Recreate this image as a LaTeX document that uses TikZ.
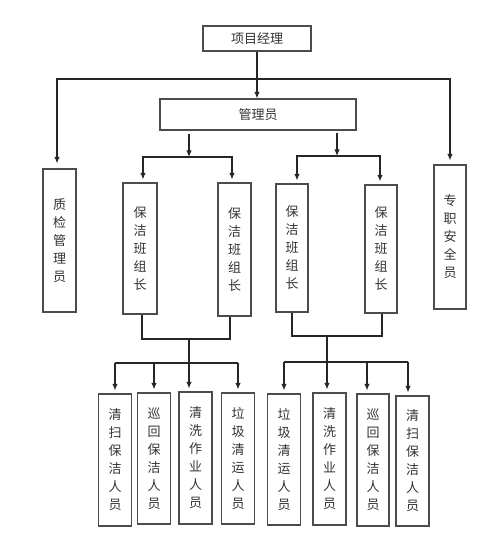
\documentclass[tikz,border=0pt]{standalone}
\usepackage{fontspec}
\newfontfamily\cjk{Noto Sans CJK SC}
\usetikzlibrary{positioning,arrows.meta}

\begin{document}
\begin{tikzpicture}[x=1pt,y=-1pt,>={Latex[length=6.5pt,width=5.5pt]},line width=1.1pt,draw=black!85,
  arr/.style={->,shorten >=3pt},
  box/.style={rectangle,draw=black!70,inner sep=0pt,align=center,text=black!80,
    font=\cjk\fontsize{13}{18}\selectfont}]
   \useasboundingbox (0,0) rectangle (500,537);
   \node[box,minimum width=108,minimum height=25] (pm) at (257,38.5) {项目经理};
   \node[box,minimum width=196,minimum height=31] (admin) at (258,114.5) {管理员};
   \node[box,minimum width=33,minimum height=143] (qc) at (59.5,240.5) {质\\检\\管\\理\\员};
   \node[box,minimum width=32,minimum height=144] (safe) at (450,237) {专\\职\\安\\全\\员};
   \node[box,minimum width=34,minimum height=131] (lead1) at (140,248.5) {保\\洁\\班\\组\\长};
   \node[box,minimum width=33,minimum height=133] (lead2) at (234.5,249.5) {保\\洁\\班\\组\\长};
   \node[box,minimum width=32,minimum height=128] (lead3) at (292,248) {保\\洁\\班\\组\\长};
   \node[box,minimum width=32,minimum height=128] (lead4) at (381,249) {保\\洁\\班\\组\\长};
   \node[box,minimum width=33,minimum height=132] (staff1) at (115,460) {清\\扫\\保\\洁\\人\\员};
   \node[box,minimum width=33,minimum height=131] (staff2) at (154,458.5) {巡\\回\\保\\洁\\人\\员};
   \node[box,minimum width=33,minimum height=132] (staff3) at (195.5,458) {清\\洗\\作\\业\\人\\员};
   \node[box,minimum width=33,minimum height=131] (staff4) at (238,458.5) {垃\\圾\\清\\运\\人\\员};
   \node[box,minimum width=33,minimum height=131] (staff5) at (284,459.5) {垃\\圾\\清\\运\\人\\员};
   \node[box,minimum width=33,minimum height=132] (staff6) at (329.5,459) {清\\洗\\作\\业\\人\\员};
   \node[box,minimum width=32,minimum height=132] (staff7) at (373,460) {巡\\回\\保\\洁\\人\\员};
   \node[box,minimum width=33,minimum height=130] (staff8) at (412.5,461) {清\\扫\\保\\洁\\人\\员};

   \coordinate (hub) at (257,79);
   \coordinate (splitL) at (189,157);
   \coordinate (splitR) at (337,156);
   \coordinate (joinL) at (189,339);
   \coordinate (joinR) at (327,336);
   \coordinate (busL) at (189,363);
   \coordinate (busR) at (327,362);
   \coordinate (tap7) at ([xshift=-6pt]staff7.north);
   \coordinate (tap8) at ([xshift=-4.5pt]staff8.north);

   \draw[->] (pm.south) -- (pm.south |- admin.north);
   \draw[arr,shorten >=5pt] (hub) -| ([xshift=-2.5pt]qc.north);
   \draw[arr,shorten >=4pt] (hub) -| (safe.north);

   \draw[->,shorten <=3pt] (admin.south -| splitL) -- (splitL);
   \draw[arr] (splitL) -| ([xshift=3pt]lead1.north);
   \draw[arr] (splitL) -| ([xshift=-2.5pt]lead2.north);
   \draw[->,shorten <=2pt] (admin.south -| splitR) -- (splitR);
   \draw[arr] (splitR) -| ([xshift=5pt]lead3.north);
   \draw[arr] (splitR) -| ([xshift=-1pt]lead4.north);

   \draw ([xshift=2pt]lead1.south) |- (joinL) -| ([xshift=-4.5pt]lead2.south);
   \draw (lead3.south) |- (joinR) -| ([xshift=1pt]lead4.south);

   \draw[arr] (joinL) -- (joinL |- staff3.north);
   \draw (busL -| staff1) -- (busL -| staff4);
   \foreach \s in {staff1,staff2,staff4}
     \draw[arr] (busL -| \s) -- (\s);
   \draw[arr] (joinR) -- (joinR |- staff6.north);
   \draw (busR -| staff5) -- (busR -| tap8);
   \draw[arr] (busR -| staff5) -- (staff5);
   \foreach \t in {tap7,tap8}
     \draw[arr] (busR -| \t) -- (\t);
\end{tikzpicture}
\end{document}
